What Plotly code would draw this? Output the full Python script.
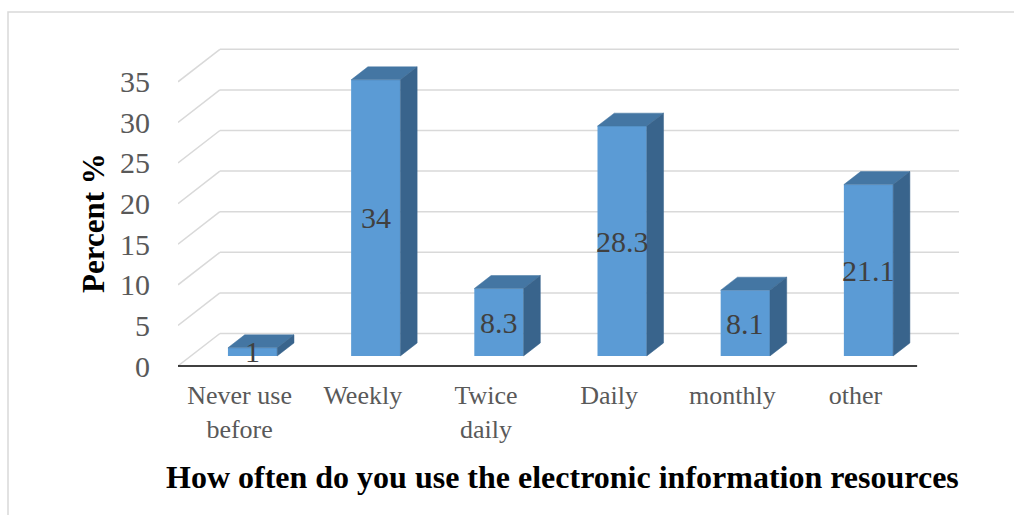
import plotly.graph_objects as go

# ---------------- data ----------------
CATEGORIES = ["Never use<br>before", "Weekly", "Twice<br>daily", "Daily", "monthly", "other"]
PERCENT = [1, 34, 8.3, 28.3, 8.1, 21.1]
LABELS = ["1", "34", "8.3", "28.3", "8.1", "21.1"]
Y_TICKS = [0, 5, 10, 15, 20, 25, 30, 35]
X_TITLE = "How often do you use the electronic information resources"
Y_TITLE = "Percent %"

# ---------------- style / geometry ----------------
W, H = 1014, 515
M_L, M_R, M_T, M_B = 178, 55, 45, 141
DEPTH_X = 0.34      # depth of the 3-D box in category units
DEPTH_Y = 4.0       # depth of the 3-D box in value units
F0, F1 = 0.31, 0.71 # front / back position of the bars inside the depth
BAR_W = 0.4
X_RANGE = [-0.5, 5.5 + DEPTH_X]
Y_RANGE = [-0.985, 39.53]

FONT = "Liberation Serif"
C_FRONT, C_TOP, C_SIDE = "#5B9BD5", "#4476A3", "#39648C"
C_GRID = "#D9D9D9"
C_TICK = "#595959"
C_LABEL = "#404040"

PW = W - M_L - M_R
PH = H - M_T - M_B


def px_x(px):
    return (px - M_L) / PW


def px_y(py):
    return (H - M_B - py) / PH


n = len(PERCENT)
xs = list(range(n))
dx = DEPTH_X * (F1 - F0)
dy = DEPTH_Y * (F1 - F0)
bx = [x + DEPTH_X * F0 for x in xs]
base = DEPTH_Y * F0

fig = go.Figure()

# front faces
fig.add_trace(go.Bar(
    x=bx, y=PERCENT, base=[base] * n, width=BAR_W,
    marker=dict(color=C_FRONT, line=dict(width=0)),
    hoverinfo="skip", showlegend=False,
))

# top and side faces
for xc, v in zip(bx, PERCENT):
    xl, xr = xc - BAR_W / 2, xc + BAR_W / 2
    yt = base + v
    fig.add_trace(go.Scatter(
        x=[xl, xr, xr + dx, xl + dx, xl], y=[yt, yt, yt + dy, yt + dy, yt],
        mode="lines", fill="toself", fillcolor=C_TOP,
        line=dict(color=C_TOP, width=0.5), hoverinfo="skip", showlegend=False,
    ))
    fig.add_trace(go.Scatter(
        x=[xr, xr, xr + dx, xr + dx, xr], y=[base, yt, yt + dy, base + dy, base],
        mode="lines", fill="toself", fillcolor=C_SIDE,
        line=dict(color=C_SIDE, width=0.5), hoverinfo="skip", showlegend=False,
    ))

# gridlines (back wall + left diagonal)
shapes = []
for v in Y_TICKS:
    shapes.append(dict(type="line", xref="x", yref="y", layer="below",
                       x0=X_RANGE[0], y0=v, x1=X_RANGE[0] + DEPTH_X, y1=v + DEPTH_Y,
                       line=dict(color=C_GRID, width=1.5)))
    shapes.append(dict(type="line", xref="x", yref="y", layer="below",
                       x0=X_RANGE[0] + DEPTH_X, y0=v + DEPTH_Y, x1=X_RANGE[1], y1=v + DEPTH_Y,
                       line=dict(color=C_GRID, width=1.5)))
# front axis line
shapes.append(dict(type="line", xref="x", yref="y", layer="above",
                   x0=X_RANGE[0], y0=0, x1=5.5, y1=0,
                   line=dict(color="black", width=1.5)))
# chart border
shapes.append(dict(type="rect", xref="paper", yref="paper", layer="below",
                   x0=px_x(8), y0=px_y(12), x1=px_x(W + 10), y1=px_y(H + 10),
                   line=dict(color=C_GRID, width=1.5)))

# data labels (centred on the front face of each bar)
annotations = [
    dict(text=lab, xref="x", yref="y", x=xc, y=base + v / 2,
         xanchor="center", yanchor="middle", showarrow=False,
         font=dict(family=FONT, size=30, color=C_LABEL))
    for xc, v, lab in zip(bx, PERCENT, LABELS)
]
annotations += [
    dict(text="<b>" + X_TITLE + "</b>", xref="paper", yref="paper",
         x=px_x(562), y=px_y(477), xanchor="center", yanchor="middle", showarrow=False,
         font=dict(family=FONT, size=32, color="black")),
    dict(text="<b>" + Y_TITLE + "</b>", xref="paper", yref="paper", textangle=-90,
         x=px_x(93), y=px_y(223), xanchor="center", yanchor="middle", showarrow=False,
         font=dict(family=FONT, size=31, color="black")),
]

fig.update_layout(
    width=W, height=H, template="none",
    font=dict(family=FONT),
    margin=dict(l=M_L, r=M_R, t=M_T, b=M_B, pad=0),
    paper_bgcolor="white", plot_bgcolor="white",
    showlegend=False, hovermode=False,
    shapes=shapes, annotations=annotations,
    xaxis=dict(range=X_RANGE, tickvals=xs, ticktext=CATEGORIES, automargin=False,
               showgrid=False, zeroline=False, showline=False, ticks="",
               ticklabelstandoff=3,
               tickfont=dict(family=FONT, size=26, color=C_TICK)),
    yaxis=dict(range=Y_RANGE, tickvals=Y_TICKS, ticktext=[str(t) for t in Y_TICKS],
               automargin=False, showgrid=False, zeroline=False, showline=False, ticks="",
               ticklabelstandoff=27,
               tickfont=dict(family=FONT, size=30, color=C_TICK)),
)

fig.write_html("out.html")
